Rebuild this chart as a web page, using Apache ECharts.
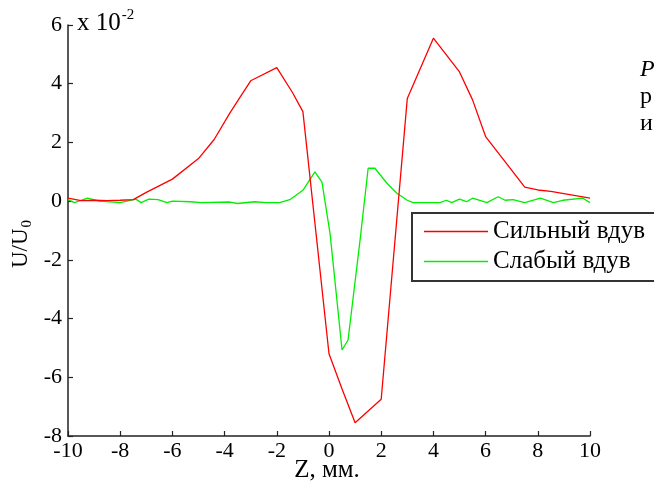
<!DOCTYPE html>
<html><head><meta charset="utf-8">
<script src="https://cdn.jsdelivr.net/npm/echarts@6/dist/echarts.min.js"></script>
<style>html,body{margin:0;padding:0;background:#fff}#c{width:654px;height:489px}</style>
</head><body><div id="c"></div>
<script>
const xTicks = [-10, -8, -6, -4, -2, 0, 2, 4, 6, 8, 10];
const yTicks = [-8, -6, -4, -2, 0, 2, 4, 6];
const seriesNames = ['Сильный вдув', 'Слабый вдув'];
const redZ = [-10, -9.5, -9, -8.5, -8, -7.5, -7, -6, -5, -4.4, -3.8, -3.4, -3, -2, -1.4, -1, 0, 0.5, 1, 2, 3, 4, 5, 5.5, 6, 6.7, 7.5, 8, 8.5, 10];
const redU = [0.1, 0.02, 0.03, 0.02, 0.03, 0.05, 0.3, 0.75, 1.45, 2.1, 3.0, 3.55, 4.1, 4.55, 3.7, 3.05, -5.2, -6.4, -7.55, -6.75, 3.5, 5.55, 4.4, 3.45, 2.2, 1.4, 0.48, 0.38, 0.33, 0.1];
const greenZ = [-10, -9.75, -9.25, -8.8, -8.0, -7.4, -7.2, -6.9, -6.55, -6.2, -6.0, -5.3, -4.9, -3.8, -3.5, -2.85, -2.4, -1.9, -1.5, -1.0, -0.54, -0.27, 0.04, 0.5, 0.73, 1.19, 1.5, 1.76, 2.22, 2.6, 3.0, 3.22, 4.25, 4.5, 4.7, 5.0, 5.27, 5.5, 6.05, 6.48, 6.75, 7.05, 7.5, 8.1, 8.6, 8.96, 9.73, 10];
const greenU = [0.05, -0.05, 0.1, 0, -0.05, 0.07, -0.05, 0.07, 0.05, -0.05, 0, -0.02, -0.05, -0.03, -0.08, -0.02, -0.05, -0.05, 0.05, 0.37, 1.0, 0.65, -1.1, -5.07, -4.73, -1.33, 1.12, 1.12, 0.61, 0.27, 0.03, -0.05, -0.05, 0.03, -0.05, 0.07, -0.02, 0.1, -0.05, 0.15, 0.03, 0.05, -0.05, 0.1, -0.05, 0.03, 0.1, -0.05];

const FONT = '"Liberation Serif", "DejaVu Serif", serif';
const chart = echarts.init(document.getElementById('c'), null, {renderer: 'canvas'});
const zip = (a, b) => a.map((v, i) => [v, b[i]]);

chart.setOption({
  animation: false,
  backgroundColor: '#fff',
  grid: {left: 68, right: 64, top: 25, bottom: 53, containLabel: false},
  xAxis: {
    type: 'value', min: xTicks[0], max: xTicks[xTicks.length - 1], interval: 2,
    axisLine: {show: true, onZero: false, lineStyle: {color: '#222', width: 1.5}},
    axisTick: {show: true, inside: true, length: 5, lineStyle: {color: '#222', width: 1.2}},
    axisLabel: {color: '#000', fontFamily: FONT, fontSize: 22, margin: 4},
    splitLine: {show: false}
  },
  yAxis: {
    type: 'value', min: yTicks[0], max: yTicks[yTicks.length - 1], interval: 2,
    axisLine: {show: true, onZero: false, lineStyle: {color: '#222', width: 1.5}},
    axisTick: {show: true, inside: true, length: 5, lineStyle: {color: '#222', width: 1.2}},
    axisLabel: {color: '#000', fontFamily: FONT, fontSize: 22, margin: 6},
    splitLine: {show: false}
  },
  legend: {
    left: 412, top: 213, orient: 'vertical', z: 6,
    data: seriesNames,
    icon: 'rect',
    borderWidth: 0,
    padding: [6, 0, 7, 12],
    itemWidth: 64, itemHeight: 1.6, itemGap: 5,
    textStyle: {color: '#000', fontFamily: FONT, fontSize: 25, lineHeight: 25, padding: [0, 0, 0, 0]}
  },
  series: [
    {name: seriesNames[0], type: 'line', data: zip(redZ, redU), symbol: 'none', showSymbol: false,
     lineStyle: {color: '#ff0000', width: 1.3}, itemStyle: {color: '#ff0000'}, z: 3},
    {name: seriesNames[1], type: 'line', data: zip(greenZ, greenU), symbol: 'none', showSymbol: false,
     lineStyle: {color: '#00ee00', width: 1.3}, itemStyle: {color: '#00ee00'}, z: 2}
  ],
  graphic: [
    {type: 'rect', z: 5, shape: {x: 412, y: 213, width: 300, height: 68},
     style: {fill: '#fff', stroke: '#333', lineWidth: 2}},
    {type: 'text', left: 77, top: 8, style: {
      text: '{a|x 10}{s|-2}', rich: {
        a: {fontFamily: FONT, fontSize: 25, fill: '#000', verticalAlign: 'bottom', lineHeight: 28},
        s: {fontFamily: FONT, fontSize: 15, fill: '#000', verticalAlign: 'top', padding: [0, 0, 11, 1]}
      }}},
    {type: 'text', x: 21, y: 244, rotation: Math.PI / 2, style: {
      text: '{a|U/U}{s|0}', align: 'center', verticalAlign: 'middle', rich: {
        a: {fontFamily: FONT, fontSize: 23, fill: '#000'},
        s: {fontFamily: FONT, fontSize: 15, fill: '#000', padding: [13, 0, 0, 1]}
      }}},
    {type: 'text', x: 327, y: 470, style: {text: 'Z, мм.', fontFamily: FONT, fontSize: 25, fill: '#000', align: 'center', verticalAlign: 'middle'}},
    {type: 'text', x: 640, y: 70, style: {text: 'Р', fontFamily: FONT, fontStyle: 'italic', fontSize: 24, fill: '#000', verticalAlign: 'middle'}},
    {type: 'text', x: 640, y: 97, style: {text: 'р', fontFamily: FONT, fontSize: 24, fill: '#000', verticalAlign: 'middle'}},
    {type: 'text', x: 640, y: 124, style: {text: 'и', fontFamily: FONT, fontSize: 24, fill: '#000', verticalAlign: 'middle'}}
  ]
});
</script></body></html>
